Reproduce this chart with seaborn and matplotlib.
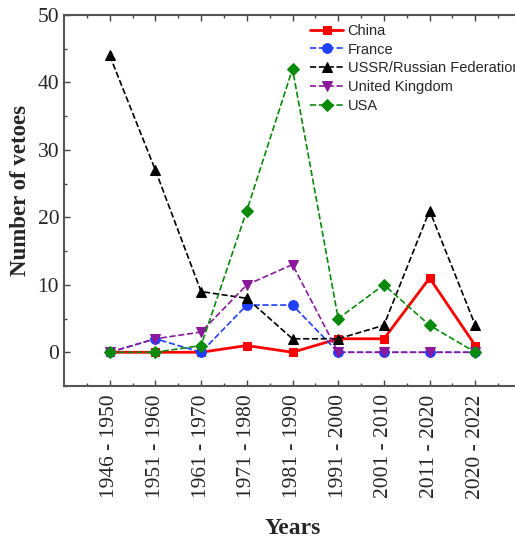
import matplotlib
matplotlib.use("Agg")
import matplotlib.pyplot as plt
import seaborn as sns
import pandas as pd
from matplotlib.ticker import MultipleLocator, FixedLocator

periods = ["1946 - 1950", "1951 - 1960", "1961 - 1970", "1971 - 1980", "1981 - 1990",
           "1991 - 2000", "2001 - 2010", "2011 - 2020", "2020 - 2022"]
china = [0, 0, 0, 1, 0, 2, 2, 11, 1]
france = [0, 2, 0, 7, 7, 0, 0, 0, 0]
ussr = [44, 27, 9, 8, 2, 2, 4, 21, 4]
uk = [0, 2, 3, 10, 13, 0, 0, 0, 0]
usa = [0, 0, 1, 21, 42, 5, 10, 4, 0]

series = [
    ("China", china, "#ff0000", "s", "-", 2.0, 6),
    ("France", france, "#1f3fff", "o", "--", 1.2, 7),
    ("USSR/Russian Federation", ussr, "#000000", "^", "--", 1.2, 7),
    ("United Kingdom", uk, "#8b1a9b", "v", "--", 1.2, 7),
    ("USA", usa, "#0a8a0a", "D", "--", 1.2, 6),
]

sns.set_style("ticks")
plt.rcParams['font.family'] = ['Liberation Serif', 'DejaVu Serif']

fig = plt.figure(figsize=(5.15, 5.39), dpi=100)
ax = fig.add_axes([64/515, 153/539, (521-64)/515, (386-15)/539])

for name, vals, col, mk, ls, lw, ms in series:
    df = pd.DataFrame({"x": range(len(periods)), "y": vals})
    sns.lineplot(data=df, x="x", y="y", ax=ax, color=col, marker=mk, linestyle=ls,
                 linewidth=lw, markersize=ms, markeredgecolor=col, label=name)

ax.set_xlim(-1, 9)
ax.set_ylim(-5, 50)
ax.xaxis.set_major_locator(FixedLocator(range(len(periods))))
ax.set_xticklabels(periods, rotation=90, fontsize=15.5)
ax.xaxis.set_minor_locator(FixedLocator([i - 0.5 for i in range(len(periods) + 1)]))
ax.yaxis.set_major_locator(MultipleLocator(10))
ax.yaxis.set_minor_locator(MultipleLocator(5))
ax.tick_params(axis='y', labelsize=15.5)
ax.tick_params(which='both', direction='in', top=True, right=True, color='#444444')
ax.tick_params(which='major', length=4, width=1)
ax.tick_params(which='minor', length=2.5, width=1)
ax.tick_params(axis='x', which='major', pad=6)
for s in ax.spines.values():
    s.set_linewidth(1.5)
    s.set_color('#555555')

ax.set_xlabel("Years", fontsize=17, fontweight='bold', labelpad=14)
ax.set_ylabel("Number of vetoes", fontsize=16.5, fontweight='bold')
ax.yaxis.set_label_coords(-0.072, 0.528)

leg = ax.legend(loc='upper left', bbox_to_anchor=(0.52, 1.0), frameon=False,
                prop={'family': 'Liberation Sans', 'size': 10.5},
                handlelength=2.25, handletextpad=0.3, labelspacing=0.33, borderaxespad=0.2)

fig.savefig("out.png", dpi=100)
